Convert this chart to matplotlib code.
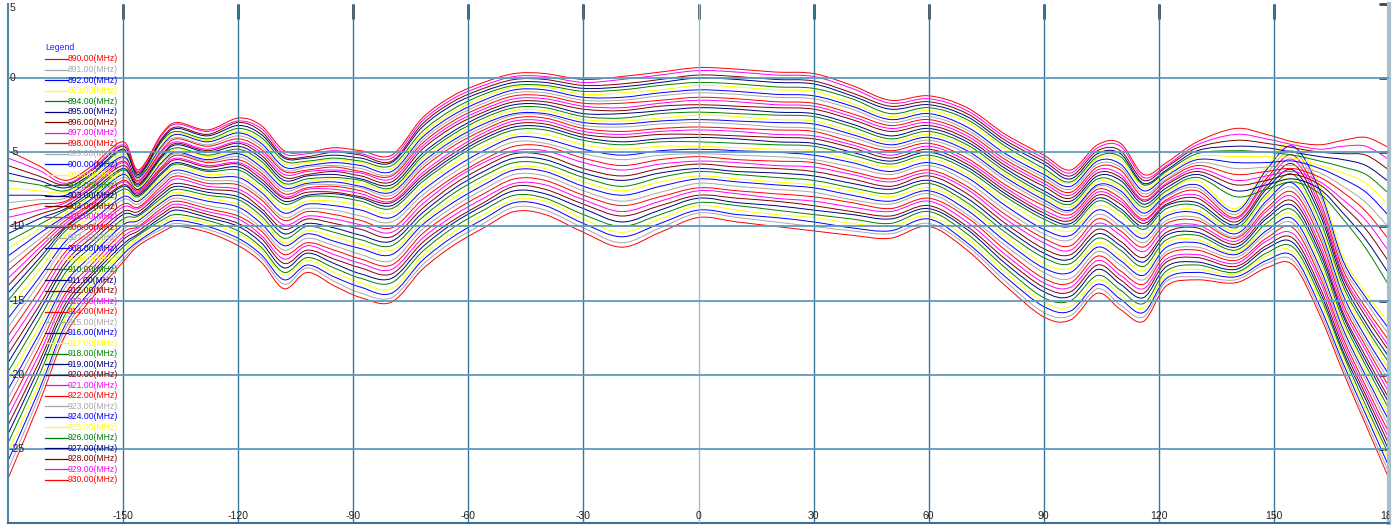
import numpy as np
import matplotlib
matplotlib.use("Agg")
import matplotlib.pyplot as plt
from matplotlib.path import Path
from matplotlib.patches import PathPatch

plt.rcParams['font.family'] = ['Liberation Sans', 'DejaVu Sans']

# ---------------- data (gain in dB vs angle in degrees) ----------------
angles = [-180, -172, -165, -158, -150, -146, -140, -136, -128, -120, -114, -108, -102, -95, -88, -80,
          -72, -64, -56, -48, -40, -30, -20, -10, 0, 10, 20, 30, 40, 50, 60, 70, 80, 90, 97, 104,
          110, 116, 122, 130, 140, 148, 155, 162, 168, 174, 180]

f890 = [-27.0, -22.0, -17.3, -14.8, -12.4, -11.3, -10.4, -10.0, -10.4, -11.3, -12.4, -14.2, -13.1, -14.0, -14.8, -15.1, -12.9, -11.3, -10.1, -9.0, -9.2, -10.4, -11.4, -10.4, -9.4, -9.7, -10.0, -10.3, -10.6, -10.8, -10.0, -11.6, -14.0, -16.1, -16.3, -14.5, -15.6, -16.4, -14.0, -13.6, -13.8, -12.8, -12.6, -16.0, -19.8, -23.4, -27.0]
f891 = [-26.4, -21.5, -16.9, -14.5, -12.2, -11.1, -10.2, -9.8, -10.2, -11.0, -12.1, -13.9, -12.8, -13.7, -14.5, -14.8, -12.6, -11.0, -9.8, -8.7, -8.9, -10.1, -11.1, -10.1, -9.1, -9.4, -9.7, -10.0, -10.3, -10.5, -9.8, -11.3, -13.7, -15.8, -16.0, -14.2, -15.3, -16.1, -13.7, -13.4, -13.6, -12.5, -12.3, -15.7, -19.5, -23.1, -26.6]
f892 = [-25.8, -21.1, -16.6, -14.2, -11.9, -11.0, -10.0, -9.6, -10.0, -10.8, -11.9, -13.6, -12.6, -13.4, -14.1, -14.5, -12.3, -10.7, -9.5, -8.4, -8.6, -9.8, -10.7, -9.8, -8.9, -9.2, -9.4, -9.7, -10.1, -10.3, -9.5, -11.1, -13.4, -15.4, -15.7, -13.9, -14.9, -15.8, -13.5, -13.1, -13.4, -12.3, -12.0, -15.4, -19.2, -22.7, -26.2]
f893 = [-25.2, -20.6, -16.2, -13.9, -11.7, -10.8, -9.8, -9.4, -9.8, -10.5, -11.6, -13.3, -12.3, -13.1, -13.8, -14.2, -12.0, -10.4, -9.2, -8.2, -8.3, -9.5, -10.4, -9.5, -8.6, -8.9, -9.2, -9.4, -9.8, -10.0, -9.3, -10.8, -13.1, -15.1, -15.4, -13.6, -14.6, -15.5, -13.2, -12.9, -13.2, -12.0, -11.7, -15.0, -18.9, -22.4, -25.8]
f894 = [-24.6, -20.1, -15.9, -13.6, -11.4, -10.6, -9.6, -9.2, -9.6, -10.3, -11.4, -13.1, -12.1, -12.8, -13.5, -13.8, -11.7, -10.1, -8.9, -7.9, -8.1, -9.2, -10.0, -9.2, -8.4, -8.6, -8.9, -9.2, -9.5, -9.8, -9.0, -10.5, -12.8, -14.8, -15.0, -13.3, -14.3, -15.2, -13.0, -12.6, -13.1, -11.8, -11.4, -14.7, -18.6, -22.1, -25.4]
f895 = [-24.0, -19.6, -15.5, -13.3, -11.2, -10.5, -9.4, -8.9, -9.4, -10.0, -11.1, -12.8, -11.8, -12.5, -13.2, -13.5, -11.4, -9.8, -8.6, -7.6, -7.8, -8.8, -9.7, -8.9, -8.1, -8.4, -8.6, -8.9, -9.2, -9.5, -8.8, -10.2, -12.5, -14.4, -14.7, -12.9, -13.9, -14.8, -12.7, -12.4, -12.9, -11.5, -11.1, -14.4, -18.4, -21.7, -25.1]
f896 = [-23.4, -19.2, -15.2, -13.1, -10.9, -10.3, -9.2, -8.7, -9.2, -9.8, -10.8, -12.5, -11.6, -12.2, -12.8, -13.2, -11.1, -9.6, -8.4, -7.3, -7.5, -8.5, -9.3, -8.6, -7.9, -8.1, -8.3, -8.6, -9.0, -9.3, -8.6, -10.0, -12.2, -14.1, -14.4, -12.6, -13.6, -14.5, -12.4, -12.1, -12.7, -11.3, -10.8, -14.1, -18.1, -21.4, -24.7]
f897 = [-22.8, -18.7, -14.8, -12.8, -10.7, -10.1, -9.0, -8.5, -9.0, -9.5, -10.6, -12.2, -11.3, -11.9, -12.5, -12.9, -10.8, -9.3, -8.1, -7.1, -7.2, -8.2, -9.0, -8.3, -7.6, -7.8, -8.1, -8.3, -8.7, -9.0, -8.3, -9.7, -11.9, -13.8, -14.1, -12.3, -13.3, -14.2, -12.2, -11.9, -12.5, -11.0, -10.5, -13.7, -17.8, -21.1, -24.3]
f898 = [-22.2, -18.2, -14.5, -12.5, -10.4, -10.0, -8.8, -8.3, -8.8, -9.3, -10.3, -11.9, -11.1, -11.6, -12.2, -12.6, -10.5, -9.0, -7.8, -6.8, -6.9, -7.9, -8.6, -8.0, -7.4, -7.6, -7.8, -8.0, -8.4, -8.8, -8.1, -9.4, -11.6, -13.5, -13.8, -12.0, -13.0, -13.9, -11.9, -11.6, -12.3, -10.8, -10.1, -13.4, -17.5, -20.8, -23.9]
f899 = [-21.6, -17.7, -14.1, -12.2, -10.2, -9.8, -8.6, -8.1, -8.6, -9.0, -10.1, -11.6, -10.8, -11.3, -11.9, -12.3, -10.2, -8.7, -7.5, -6.5, -6.6, -7.6, -8.3, -7.7, -7.1, -7.3, -7.5, -7.7, -8.2, -8.5, -7.8, -9.2, -11.3, -13.1, -13.5, -11.7, -12.6, -13.6, -11.7, -11.4, -12.1, -10.5, -9.8, -13.1, -17.2, -20.4, -23.5]
f900 = [-21.0, -17.3, -13.8, -11.9, -9.9, -9.6, -8.4, -7.9, -8.3, -8.7, -9.8, -11.3, -10.5, -11.0, -11.5, -11.9, -9.9, -8.4, -7.2, -6.2, -6.3, -7.3, -7.9, -7.3, -6.8, -7.0, -7.2, -7.4, -7.9, -8.3, -7.6, -8.9, -11.0, -12.8, -13.1, -11.4, -12.3, -13.3, -11.4, -11.1, -11.9, -10.3, -9.5, -12.8, -16.9, -20.1, -23.1]
f901 = [-20.4, -16.8, -13.4, -11.6, -9.7, -9.5, -8.3, -7.7, -8.1, -8.5, -9.5, -11.1, -10.3, -10.7, -11.2, -11.6, -9.7, -8.1, -6.9, -6.0, -6.1, -7.0, -7.6, -7.0, -6.6, -6.8, -7.0, -7.2, -7.6, -8.0, -7.4, -8.6, -10.7, -12.5, -12.8, -11.1, -12.0, -13.0, -11.1, -10.9, -11.8, -10.0, -9.2, -12.5, -16.6, -19.8, -22.7]
f902 = [-19.8, -16.3, -13.1, -11.3, -9.5, -9.3, -8.1, -7.5, -7.9, -8.2, -9.3, -10.8, -10.0, -10.4, -10.9, -11.3, -9.4, -7.8, -6.6, -5.7, -5.8, -6.7, -7.3, -6.7, -6.3, -6.5, -6.7, -6.9, -7.4, -7.8, -7.1, -8.4, -10.4, -12.1, -12.5, -10.8, -11.6, -12.7, -10.9, -10.6, -11.6, -9.8, -8.9, -12.1, -16.3, -19.4, -22.3]
f903 = [-19.2, -15.8, -12.7, -11.0, -9.2, -9.2, -7.9, -7.3, -7.7, -8.0, -9.0, -10.5, -9.8, -10.1, -10.6, -11.0, -9.1, -7.5, -6.3, -5.4, -5.5, -6.4, -6.9, -6.4, -6.1, -6.3, -6.4, -6.6, -7.1, -7.5, -6.9, -8.1, -10.1, -11.8, -12.2, -10.5, -11.3, -12.4, -10.6, -10.4, -11.4, -9.5, -8.6, -11.8, -16.0, -19.1, -21.9]
f904 = [-18.6, -15.4, -12.4, -10.7, -9.0, -9.0, -7.7, -7.1, -7.5, -7.7, -8.8, -10.2, -9.5, -9.8, -10.2, -10.7, -8.8, -7.2, -6.0, -5.1, -5.2, -6.1, -6.6, -6.1, -5.8, -6.0, -6.1, -6.3, -6.8, -7.3, -6.6, -7.8, -9.8, -11.5, -11.9, -10.2, -11.0, -12.1, -10.4, -10.1, -11.2, -9.3, -8.3, -11.5, -15.8, -18.8, -21.6]
f905 = [-18.0, -14.9, -12.0, -10.4, -8.7, -8.8, -7.5, -6.8, -7.3, -7.5, -8.5, -9.9, -9.3, -9.5, -9.9, -10.4, -8.5, -6.9, -5.7, -4.9, -4.9, -5.7, -6.2, -5.8, -5.6, -5.7, -5.9, -6.0, -6.5, -7.0, -6.4, -7.5, -9.5, -11.1, -11.6, -9.8, -10.6, -11.7, -10.1, -9.9, -11.0, -9.0, -8.0, -11.2, -15.5, -18.4, -21.2]
f906 = [-17.4, -14.4, -11.7, -10.2, -8.5, -8.7, -7.3, -6.6, -7.1, -7.2, -8.2, -9.6, -9.0, -9.2, -9.6, -10.1, -8.2, -6.7, -5.5, -4.6, -4.6, -5.4, -5.9, -5.5, -5.3, -5.5, -5.6, -5.7, -6.3, -6.8, -6.2, -7.3, -9.2, -10.8, -11.3, -9.5, -10.3, -11.4, -9.8, -9.6, -10.8, -8.8, -7.7, -10.8, -15.2, -18.1, -20.8]
f907 = [-16.8, -13.9, -11.3, -9.9, -8.2, -8.5, -7.1, -6.4, -6.9, -7.0, -8.0, -9.4, -8.8, -8.9, -9.3, -9.7, -7.9, -6.4, -5.2, -4.3, -4.4, -5.1, -5.5, -5.2, -5.1, -5.2, -5.3, -5.5, -6.0, -6.5, -5.9, -7.0, -8.9, -10.5, -10.9, -9.2, -10.0, -11.1, -9.6, -9.4, -10.7, -8.5, -7.4, -10.5, -14.9, -17.8, -20.4]
f908 = [-16.2, -13.5, -11.0, -9.6, -8.0, -8.3, -6.9, -6.2, -6.7, -6.7, -7.7, -9.1, -8.5, -8.6, -8.9, -9.4, -7.6, -6.1, -4.9, -4.0, -4.1, -4.8, -5.2, -4.9, -4.8, -4.9, -5.0, -5.2, -5.7, -6.3, -5.7, -6.7, -8.6, -10.2, -10.6, -8.9, -9.7, -10.8, -9.3, -9.1, -10.5, -8.3, -7.1, -10.2, -14.6, -17.5, -20.0]
f909 = [-15.6, -13.0, -10.6, -9.3, -7.7, -8.2, -6.7, -6.0, -6.5, -6.5, -7.5, -8.8, -8.3, -8.3, -8.6, -9.1, -7.3, -5.8, -4.6, -3.8, -3.8, -4.5, -4.8, -4.6, -4.6, -4.7, -4.8, -4.9, -5.5, -6.0, -5.4, -6.5, -8.3, -9.8, -10.3, -8.6, -9.3, -10.5, -9.1, -8.9, -10.3, -8.0, -6.8, -9.9, -14.3, -17.1, -19.6]
f910 = [-15.0, -12.5, -10.3, -9.0, -7.5, -8.0, -6.5, -5.8, -6.3, -6.2, -7.2, -8.5, -8.0, -8.0, -8.3, -8.8, -7.0, -5.5, -4.3, -3.5, -3.5, -4.2, -4.5, -4.3, -4.3, -4.4, -4.5, -4.6, -5.2, -5.8, -5.2, -6.2, -8.0, -9.5, -10.0, -8.3, -9.0, -10.2, -8.8, -8.6, -10.1, -7.8, -6.5, -9.6, -14.0, -16.8, -19.2]
f911 = [-14.5, -12.2, -10.1, -8.8, -7.3, -7.9, -6.4, -5.7, -6.2, -6.0, -7.0, -8.3, -7.9, -7.8, -8.1, -8.6, -6.8, -5.3, -4.1, -3.3, -3.3, -4.0, -4.3, -4.1, -4.0, -4.1, -4.3, -4.4, -5.0, -5.6, -5.0, -6.0, -7.8, -9.3, -9.8, -8.1, -8.8, -10.0, -8.6, -8.4, -9.9, -7.5, -6.2, -9.2, -13.7, -16.5, -18.8]
f912 = [-14.0, -11.8, -10.0, -8.7, -7.2, -7.8, -6.2, -5.5, -6.0, -5.8, -6.8, -8.1, -7.7, -7.7, -8.0, -8.4, -6.6, -5.1, -3.9, -3.1, -3.1, -3.8, -4.0, -3.8, -3.8, -3.9, -4.0, -4.1, -4.7, -5.4, -4.8, -5.8, -7.6, -9.1, -9.6, -7.9, -8.5, -9.8, -8.5, -8.1, -9.7, -7.3, -5.8, -8.9, -13.4, -16.1, -18.4]
f913 = [-13.5, -11.5, -9.8, -8.5, -7.0, -7.7, -6.1, -5.4, -5.9, -5.7, -6.6, -8.0, -7.5, -7.5, -7.8, -8.3, -6.4, -4.9, -3.7, -2.9, -2.9, -3.6, -3.8, -3.6, -3.5, -3.6, -3.8, -3.9, -4.5, -5.2, -4.6, -5.6, -7.4, -8.9, -9.4, -7.7, -8.3, -9.6, -8.3, -7.9, -9.5, -7.0, -5.5, -8.6, -13.2, -15.8, -18.1]
f914 = [-13.0, -11.2, -9.6, -8.4, -6.9, -7.6, -6.0, -5.2, -5.7, -5.5, -6.4, -7.8, -7.4, -7.3, -7.6, -8.1, -6.1, -4.6, -3.5, -2.7, -2.7, -3.4, -3.6, -3.4, -3.3, -3.4, -3.5, -3.6, -4.3, -4.9, -4.4, -5.4, -7.2, -8.6, -9.2, -7.5, -8.1, -9.5, -8.2, -7.6, -9.4, -6.8, -5.2, -8.3, -12.9, -15.5, -17.7]
f915 = [-12.5, -10.9, -9.4, -8.2, -6.7, -7.5, -5.8, -5.1, -5.6, -5.3, -6.2, -7.6, -7.2, -7.2, -7.4, -7.9, -5.9, -4.4, -3.3, -2.5, -2.5, -3.2, -3.3, -3.1, -3.0, -3.1, -3.3, -3.4, -4.0, -4.7, -4.2, -5.1, -6.9, -8.4, -9.0, -7.3, -7.8, -9.3, -8.0, -7.4, -9.2, -6.5, -4.9, -7.9, -12.6, -15.1, -17.3]
f916 = [-12.0, -10.5, -9.3, -8.1, -6.5, -7.5, -5.7, -5.0, -5.5, -5.1, -6.0, -7.4, -7.1, -7.0, -7.3, -7.7, -5.7, -4.2, -3.1, -2.4, -2.4, -3.0, -3.1, -2.9, -2.8, -2.9, -3.0, -3.1, -3.8, -4.5, -4.0, -4.9, -6.7, -8.2, -8.9, -7.2, -7.6, -9.1, -7.9, -7.2, -9.0, -6.2, -4.6, -7.6, -12.3, -14.8, -16.9]
f917 = [-11.5, -10.2, -9.1, -7.9, -6.4, -7.4, -5.6, -4.8, -5.3, -5.0, -5.8, -7.2, -7.0, -6.8, -7.1, -7.5, -5.5, -4.0, -2.9, -2.2, -2.2, -2.8, -2.9, -2.7, -2.5, -2.6, -2.8, -2.9, -3.6, -4.3, -3.8, -4.7, -6.5, -8.0, -8.7, -7.0, -7.4, -8.9, -7.7, -6.9, -8.8, -6.0, -4.3, -7.3, -12.0, -14.5, -16.5]
f918 = [-11.0, -9.9, -8.9, -7.8, -6.2, -7.3, -5.4, -4.7, -5.2, -4.8, -5.6, -7.1, -6.8, -6.7, -6.9, -7.4, -5.3, -3.8, -2.7, -2.0, -2.0, -2.6, -2.7, -2.4, -2.3, -2.4, -2.5, -2.6, -3.3, -4.1, -3.6, -4.5, -6.3, -7.8, -8.5, -6.8, -7.2, -8.7, -7.6, -6.7, -8.0, -7.5, -7.0, -7.8, -9.5, -11.5, -14.0]
f919 = [-10.5, -9.5, -8.8, -7.6, -6.1, -7.2, -5.3, -4.5, -5.0, -4.6, -5.4, -6.9, -6.6, -6.5, -6.8, -7.2, -5.1, -3.6, -2.5, -1.8, -1.8, -2.4, -2.4, -2.2, -2.0, -2.1, -2.3, -2.4, -3.1, -3.9, -3.4, -4.3, -6.1, -7.6, -8.3, -6.6, -6.9, -8.5, -7.4, -6.5, -7.6, -7.2, -6.8, -7.5, -9.1, -10.9, -13.2]
f920 = [-10.0, -9.2, -8.6, -7.4, -5.9, -7.1, -5.2, -4.4, -4.9, -4.4, -5.2, -6.7, -6.5, -6.3, -6.6, -7.0, -4.8, -3.3, -2.3, -1.6, -1.6, -2.1, -2.2, -1.9, -1.8, -1.9, -2.0, -2.1, -2.8, -3.6, -3.2, -4.1, -5.9, -7.3, -8.1, -6.4, -6.7, -8.3, -7.2, -6.3, -7.2, -6.9, -6.5, -7.2, -8.6, -10.2, -12.4]
f921 = [-9.4, -8.9, -8.4, -7.3, -5.7, -7.0, -5.0, -4.3, -4.8, -4.3, -5.0, -6.5, -6.3, -6.2, -6.4, -6.8, -4.6, -3.1, -2.1, -1.4, -1.4, -1.9, -2.0, -1.7, -1.5, -1.6, -1.8, -1.9, -2.6, -3.4, -3.0, -3.9, -5.7, -7.1, -7.9, -6.2, -6.5, -8.2, -7.1, -6.1, -6.9, -6.6, -6.3, -7.0, -8.2, -9.6, -11.7]
f922 = [-8.9, -8.5, -8.3, -7.1, -5.6, -6.9, -4.9, -4.1, -4.6, -4.1, -4.8, -6.3, -6.2, -6.0, -6.3, -6.6, -4.4, -2.9, -1.9, -1.2, -1.2, -1.7, -1.7, -1.5, -1.3, -1.4, -1.6, -1.7, -2.4, -3.2, -2.8, -3.7, -5.5, -6.9, -7.7, -6.0, -6.2, -8.0, -6.9, -5.9, -6.5, -6.3, -6.1, -6.7, -7.7, -9.0, -10.9]
f923 = [-8.4, -8.2, -8.1, -7.0, -5.4, -6.8, -4.7, -4.0, -4.5, -3.9, -4.6, -6.2, -6.0, -5.9, -6.1, -6.5, -4.2, -2.7, -1.7, -1.0, -1.0, -1.5, -1.5, -1.2, -1.0, -1.1, -1.3, -1.4, -2.1, -3.0, -2.6, -3.5, -5.3, -6.7, -7.5, -5.8, -6.0, -7.8, -6.8, -5.7, -6.1, -6.0, -5.9, -6.4, -7.3, -8.4, -10.1]
f924 = [-7.9, -7.9, -7.9, -6.8, -5.3, -6.7, -4.6, -3.8, -4.3, -3.7, -4.4, -6.0, -5.9, -5.7, -5.9, -6.3, -4.0, -2.5, -1.5, -0.8, -0.8, -1.3, -1.3, -1.0, -0.8, -0.9, -1.1, -1.2, -1.9, -2.8, -2.4, -3.3, -5.1, -6.5, -7.3, -5.6, -5.8, -7.6, -6.6, -5.5, -5.7, -5.7, -5.6, -6.1, -6.8, -7.7, -9.3]
f925 = [-7.4, -7.6, -7.7, -6.7, -5.1, -6.6, -4.5, -3.7, -4.2, -3.6, -4.2, -5.8, -5.7, -5.5, -5.7, -6.1, -3.8, -2.3, -1.3, -0.6, -0.6, -1.1, -1.0, -0.8, -0.5, -0.6, -0.8, -0.9, -1.7, -2.6, -2.2, -3.0, -4.8, -6.3, -7.1, -5.4, -5.5, -7.4, -6.5, -5.3, -5.3, -5.3, -5.4, -5.9, -6.4, -7.1, -8.6]
f926 = [-6.9, -7.2, -7.6, -6.5, -4.9, -6.6, -4.3, -3.6, -4.1, -3.4, -4.0, -5.6, -5.6, -5.4, -5.6, -5.9, -3.6, -2.1, -1.1, -0.5, -0.5, -0.9, -0.8, -0.5, -0.3, -0.4, -0.6, -0.7, -1.4, -2.4, -2.0, -2.8, -4.6, -6.1, -7.0, -5.3, -5.3, -7.2, -6.3, -5.1, -4.9, -5.0, -5.2, -5.6, -6.0, -6.5, -7.8]
f927 = [-6.4, -6.9, -7.4, -6.4, -4.8, -6.5, -4.2, -3.4, -3.9, -3.2, -3.8, -5.4, -5.4, -5.2, -5.4, -5.7, -3.3, -1.8, -0.9, -0.3, -0.3, -0.7, -0.6, -0.3, 0.0, -0.1, -0.3, -0.4, -1.2, -2.1, -1.8, -2.6, -4.4, -5.8, -6.8, -5.1, -5.1, -7.1, -6.2, -4.9, -4.6, -4.7, -5.0, -5.3, -5.5, -5.9, -7.0]
f928 = [-5.9, -6.6, -7.2, -6.2, -4.6, -6.4, -4.1, -3.3, -3.8, -3.0, -3.6, -5.3, -5.3, -5.0, -5.2, -5.6, -3.1, -1.6, -0.7, -0.1, -0.1, -0.5, -0.4, -0.1, 0.2, 0.1, -0.1, -0.2, -1.0, -1.9, -1.6, -2.4, -4.2, -5.6, -6.6, -4.9, -4.9, -6.9, -6.0, -4.7, -4.2, -4.4, -4.7, -5.0, -5.1, -5.2, -6.2]
f929 = [-5.4, -6.2, -7.1, -6.1, -4.5, -6.3, -3.9, -3.1, -3.6, -2.9, -3.4, -5.1, -5.1, -4.9, -5.1, -5.4, -2.9, -1.4, -0.5, 0.1, 0.1, -0.3, -0.1, 0.2, 0.5, 0.4, 0.2, 0.1, -0.7, -1.7, -1.4, -2.2, -4.0, -5.4, -6.4, -4.7, -4.6, -6.7, -5.9, -4.5, -3.8, -4.1, -4.5, -4.8, -4.6, -4.6, -5.5]
f930 = [-4.9, -5.9, -6.9, -5.9, -4.3, -6.2, -3.8, -3.0, -3.5, -2.7, -3.2, -4.9, -5.0, -4.7, -4.9, -5.2, -2.7, -1.2, -0.3, 0.3, 0.3, -0.1, 0.1, 0.4, 0.7, 0.6, 0.4, 0.3, -0.5, -1.5, -1.2, -2.0, -3.8, -5.2, -6.2, -4.5, -4.4, -6.5, -5.7, -4.3, -3.4, -3.8, -4.3, -4.5, -4.2, -4.0, -4.7]

series = [f890, f891, f892, f893, f894, f895, f896, f897, f898, f899, f900, f901, f902, f903,
          f904, f905, f906, f907, f908, f909, f910, f911, f912, f913, f914, f915, f916, f917,
          f918, f919, f920, f921, f922, f923, f924, f925, f926, f927, f928, f929, f930]
frequencies = list(range(890, 931))
labels = ["%d.00(MHz)" % f for f in frequencies]

x_ticks = [-150, -120, -90, -60, -30, 0, 30, 60, 90, 120, 150, 180]
y_ticks = [5, 0, -5, -10, -15, -20, -25]

palette = ['#ff0000', '#a8a8a8', '#0000ff', '#ffff00', '#008000', '#000080', '#800000', '#ff00ff']

# ---------------- figure ----------------
W, H = 1396, 525
fig = plt.figure(figsize=(W / 100, H / 100), dpi=100)
ax_l, ax_r, ax_t, ax_b = 8, 1389, 3.8, 523.2
ax = fig.add_axes([ax_l / W, 1 - ax_b / H, (ax_r - ax_l) / W, (ax_b - ax_t) / H])
ax.set_xlim(-180, 180)
ax.set_ylim(-30, 5)


def smooth_path(x, y):
    x = np.asarray(x, float)
    y = np.asarray(y, float)
    n = len(x)
    verts = [(x[0], y[0])]
    codes = [Path.MOVETO]
    for i in range(n - 1):
        xa, ya = (x[i - 1], y[i - 1]) if i > 0 else (x[i], y[i])
        xd, yd = (x[i + 2], y[i + 2]) if i + 2 < n else (x[i + 1], y[i + 1])
        c1 = (x[i] + (x[i + 1] - xa) / 6.0, y[i] + (y[i + 1] - ya) / 6.0)
        c2 = (x[i + 1] - (xd - x[i]) / 6.0, y[i + 1] - (yd - y[i]) / 6.0)
        verts += [c1, c2, (x[i + 1], y[i + 1])]
        codes += [Path.CURVE4] * 3
    return Path(verts, codes)


for i, vals in enumerate(series):
    col = palette[i % len(palette)]
    patch = PathPatch(smooth_path(angles, vals), fill=False, edgecolor=col, lw=0.7, zorder=2)
    ax.add_patch(patch)

# grid (drawn above curves, as in the reference)
for xv in x_ticks[:-1]:
    ax.axvline(xv, color='#9dbfd3' if xv == 0 else '#3a7898', lw=1.0, zorder=3)
for yv in y_ticks[1:]:
    ax.axhline(yv, color='#5f9ac0', lw=1.3, zorder=3)

# spines / ticks
ax.spines['top'].set_visible(False)
ax.spines['left'].set_color('#4d84a6')
ax.spines['left'].set_linewidth(1.5)
ax.spines['bottom'].set_color('#3d6f8f')
ax.spines['bottom'].set_linewidth(1.5)
ax.spines['right'].set_color('#a9bfcd')
ax.spines['right'].set_linewidth(3)
ax.set_xticks(x_ticks[:-1])
ax.set_yticks(y_ticks)
ax.tick_params(axis='x', top=True, bottom=False, direction='in', length=11, width=2,
               color='#3c4650', labelbottom=False, labeltop=False)
ax.tick_params(axis='y', right=True, left=False, direction='in', length=7, width=2,
               color='#3c4650', labelleft=False, labelright=False)

# tick labels drawn inside the plot
xt = ax.get_xaxis_transform()
for xv in x_ticks:
    ax.text(xv, 0.004, str(xv), transform=xt, ha='center', va='bottom', fontsize=7.5,
            color='#222222', clip_on=(xv == 180), zorder=5)
yt = ax.get_yaxis_transform()
for yv in y_ticks:
    ax.text(0.001, yv - (0.25 if yv == 5 else 0), str(yv), transform=yt, ha='left',
            va='center', fontsize=7.5, color='#222222', zorder=5)

# legend (manual, no frame)
def fx(px):
    return (px - ax_l) / (ax_r - ax_l)


def fy(py):
    return 1 - (py - ax_t) / (ax_b - ax_t)


ax.text(fx(45), fy(48), 'Legend', transform=ax.transAxes, ha='left', va='center',
        fontsize=6.2, color='#2020ff', zorder=6)
for i, lab in enumerate(labels):
    col = palette[i % len(palette)]
    yy = fy(59 + i * 10.525)
    ax.plot([fx(45), fx(68)], [yy, yy], transform=ax.transAxes, color=col, lw=0.9,
            clip_on=False, zorder=6)
    ax.text(fx(68), yy, lab, transform=ax.transAxes, ha='left', va='center',
            fontsize=6.2, color=col, zorder=6)

fig.savefig('out.png', dpi=100, facecolor='white')
